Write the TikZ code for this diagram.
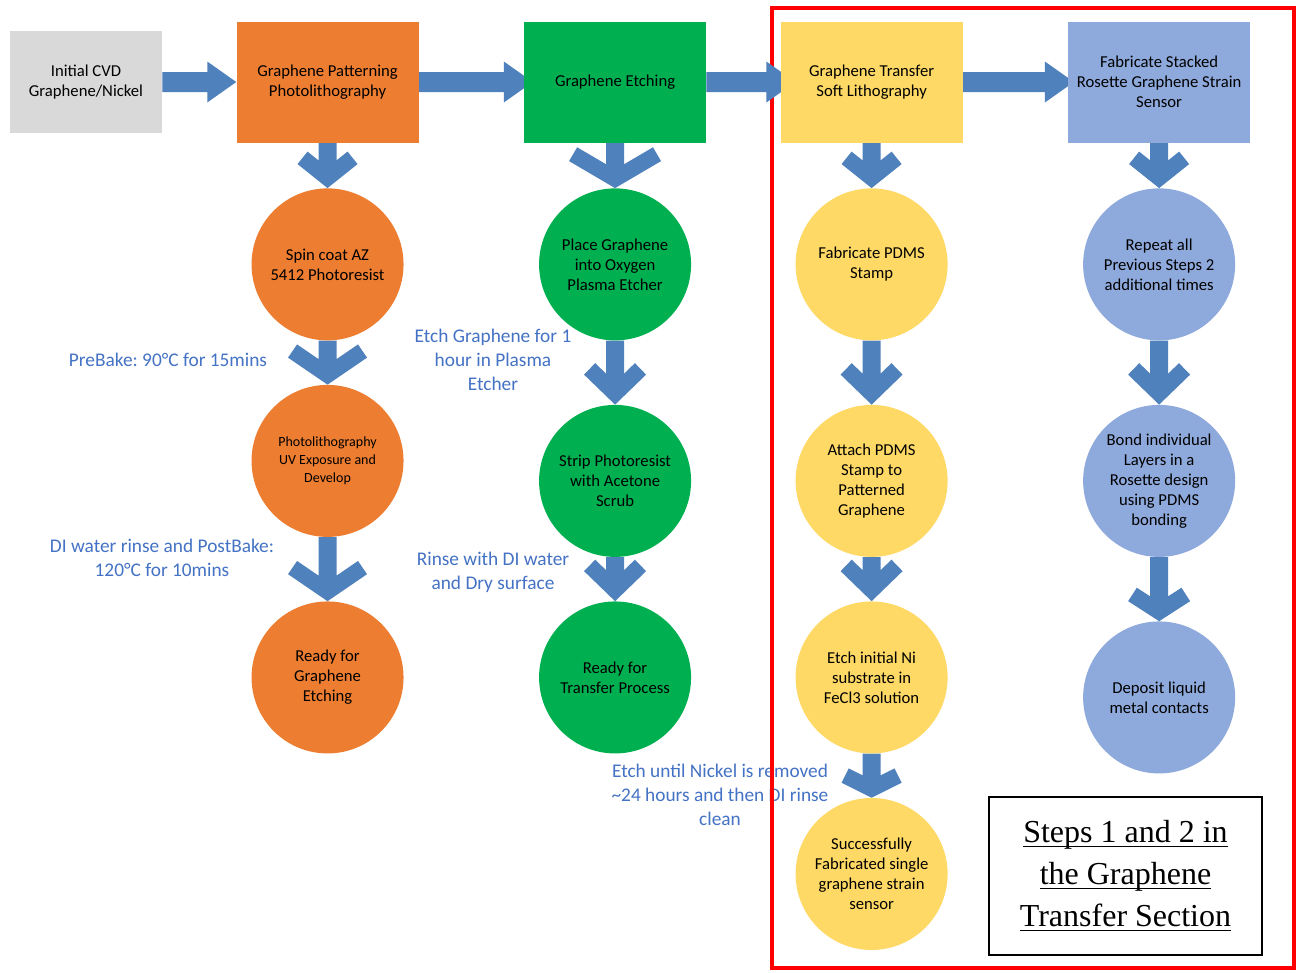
\documentclass[tikz,border=0pt]{standalone}
\usepackage{fontspec}
\setmainfont{Carlito}
\newfontfamily\fuenteNota{Liberation Serif}
\usetikzlibrary{positioning, calc, backgrounds}
\definecolor{grisPaso}{HTML}{D9D9D9}
\definecolor{naranjaPaso}{HTML}{ED7D31}
\definecolor{verdePaso}{HTML}{00B050}
\definecolor{amarilloPaso}{HTML}{FFD966}
\definecolor{azulPaso}{HTML}{8EA9DB}
\definecolor{azulFlecha}{HTML}{4F81BD}
\definecolor{azulNota}{HTML}{4472C4}
\definecolor{rojoMarco}{HTML}{FF0000}
\frenchspacing
% subrayado a profundidad fija
\newsavebox{\cajaSub}
\newcommand{\subrayado}[1]{\sbox{\cajaSub}{#1}\rlap{\vrule width\wd\cajaSub height -2.2pt depth 3.3pt}\usebox{\cajaSub}}
% flecha gruesa hacia abajo: origen, destino, semiancho y largo de la cabeza
\newcommand{\flechaAbajo}[4]{%
  \pgfmathsetmacro{\flN}{veclen(#3,#4)}%
  \pgfmathsetmacro{\flAx}{-#3+16*#4/\flN}%
  \pgfmathsetmacro{\flBx}{-\flAx}%
  \pgfmathsetmacro{\flAy}{-#4-16*#3/\flN}%
  \pgfmathsetmacro{\flJy}{\flAy+(-9-\flAx)*#4/#3}%
  \fill[azulFlecha] ($(#1.south)+(-9,0)$) -- ($(#2.north)+(-9,\flJy)$)
    -- ($(#2.north)+(\flAx,\flAy)$) -- ($(#2.north)+(-#3,-#4)$) -- (#2.north)
    -- ($(#2.north)+(#3,-#4)$) -- ($(#2.north)+(\flBx,\flAy)$)
    -- ($(#2.north)+(9,\flJy)$) -- ($(#1.south)+(9,0)$) -- cycle;}
% flecha gruesa hacia la derecha: [entrada bajo la caja] origen, destino
\newcommand{\flechaDerecha}[3][0]{%
  \fill[azulFlecha] ($(#2.east)+(0,-10)$) -- ($(#3.west)+(#1-29,-10)$)
    -- ($(#3.west)+(#1-29,-20.5)$) -- ($(#3.west)+(#1,0)$)
    -- ($(#3.west)+(#1-29,20.5)$) -- ($(#3.west)+(#1-29,10)$)
    -- ($(#2.east)+(0,10)$) -- cycle;}

\begin{document}
\begin{tikzpicture}[x=0.75pt, y=-0.75pt,
        caja/.style={rectangle, minimum width=136.5pt, minimum height=90.75pt, inner sep=2pt,
            align=center, text=black, font=\fontsize{12.5}{15}\selectfont},
        disco/.style={circle, minimum size=114pt, inner sep=0pt,
            align=center, text=black, font=\fontsize{12.5}{15}\selectfont},
        nota/.style={text=azulNota, align=center, inner sep=1pt, font=\fontsize{14.5}{18}\selectfont},
        marco/.style={draw=black, line width=1.1pt, minimum width=204.75pt, minimum height=118.5pt,
            align=center, font=\fuenteNota\fontsize{24}{31.5}\selectfont}
    ]
        \useasboundingbox (0,0) rectangle (1299,972);

        % fila de etapas
        \node[caja, fill=grisPaso, minimum width=114pt, minimum height=76.5pt] (cvd) at (86,82)
            {Initial CVD\\Graphene/Nickel};
        \node[caja, fill=naranjaPaso, right=55.5pt of cvd] (patron) {Graphene Patterning\\Photolithography};
        \node[caja, fill=verdePaso, right=78.75pt of patron] (grabado) {Graphene Etching};
        \node[caja, fill=amarilloPaso, right=55.5pt of grabado] (transfer) {Graphene Transfer\\Soft Lithography};
        \node[caja, fill=azulPaso, right=78.75pt of transfer] (roseta) {Fabricate Stacked\\Rosette Graphene Strain\\Sensor};

        % pasos de cada etapa
        \node[disco, fill=naranjaPaso, below=34pt of patron] (spin) {Spin coat AZ\\5412 Photoresist};
        \node[disco, fill=naranjaPaso, below=33pt of spin, font=\fontsize{10.5}{13.5}\selectfont] (expo)
            {Photolithography\\UV Exposure and\\Develop};
        \node[disco, fill=naranjaPaso, below=48pt of expo] (listoA) {Ready for\\Graphene\\Etching};

        \node[disco, fill=verdePaso, below=34pt of grabado] (plasma) {Place Graphene\\into Oxygen\\Plasma Etcher};
        \node[disco, fill=verdePaso, below=48pt of plasma] (strip) {Strip Photoresist\\with Acetone\\Scrub};
        \node[disco, fill=verdePaso, below=33pt of strip] (listoB) {Ready for\\Transfer Process};

        \node[disco, fill=amarilloPaso, below=34pt of transfer] (sello) {Fabricate PDMS\\Stamp};
        \node[disco, fill=amarilloPaso, below=48pt of sello] (pegar) {Attach PDMS\\Stamp to\\Patterned\\Graphene};
        \node[disco, fill=amarilloPaso, below=33pt of pegar] (niquel) {Etch initial Ni\\substrate in\\FeCl3 solution};
        \node[disco, fill=amarilloPaso, below=33pt of niquel] (sensor)
            {Successfully\\Fabricated single\\graphene strain\\sensor};

        \node[disco, fill=azulPaso, below=34pt of roseta] (repetir) {Repeat all\\Previous Steps 2\\additional times};
        \node[disco, fill=azulPaso, below=48pt of repetir] (unir)
            {Bond individual\\Layers in a\\Rosette design\\using PDMS\\bonding};
        \node[disco, fill=azulPaso, below=48pt of unir] (contactos) {Deposit liquid\\metal contacts};

        \node[marco] (seccion) at (1125.5,876)
            {\subrayado{Steps 1 and 2 in}\\\subrayado{the Graphene}\\\subrayado{Transfer Section}};

        \begin{scope}[on background layer]
            \fill[white] (0,0) rectangle (1299,972);
            \node[nota] (prebake) at (168,360) {PreBake: 90°C for 15mins};
            \node[nota] (etchhora) at (493,360) {Etch Graphene for 1\\hour in Plasma\\Etcher};
            \node[nota] (postbake) at (162,558) {DI water rinse and PostBake:\\120°C for 10mins};
            \node[nota] (enjuague) at (493,572) {Rinse with DI water\\and Dry surface};
            \node[nota] (nickel) at (720,795)
                {Etch until Nickel is removed\\\textasciitilde24 hours and then DI rinse\\clean};
            \draw[rojoMarco, line width=3pt] (772,8) rectangle (1294,968);

            \flechaDerecha{cvd}{patron}
            \flechaDerecha[9]{patron}{grabado}
            \flechaDerecha[15]{grabado}{transfer}
            \flechaDerecha[6]{transfer}{roseta}

            \flechaAbajo{patron}{spin}{30}{24}
            \flechaAbajo{spin}{expo}{39.5}{27}
            \flechaAbajo{expo}{listoA}{39.5}{27}
            \flechaAbajo{grabado}{plasma}{46}{27}
            \flechaAbajo{plasma}{strip}{31}{30}
            \flechaAbajo{strip}{listoB}{31}{30}
            \flechaAbajo{transfer}{sello}{30}{24}
            \flechaAbajo{sello}{pegar}{31}{30}
            \flechaAbajo{pegar}{niquel}{31}{30}
            \flechaAbajo{niquel}{sensor}{30}{15}
            \flechaAbajo{roseta}{repetir}{30}{24}
            \flechaAbajo{repetir}{unir}{31}{30}
            \flechaAbajo{unir}{contactos}{31}{20}
        \end{scope}
    \end{tikzpicture}
\end{document}
